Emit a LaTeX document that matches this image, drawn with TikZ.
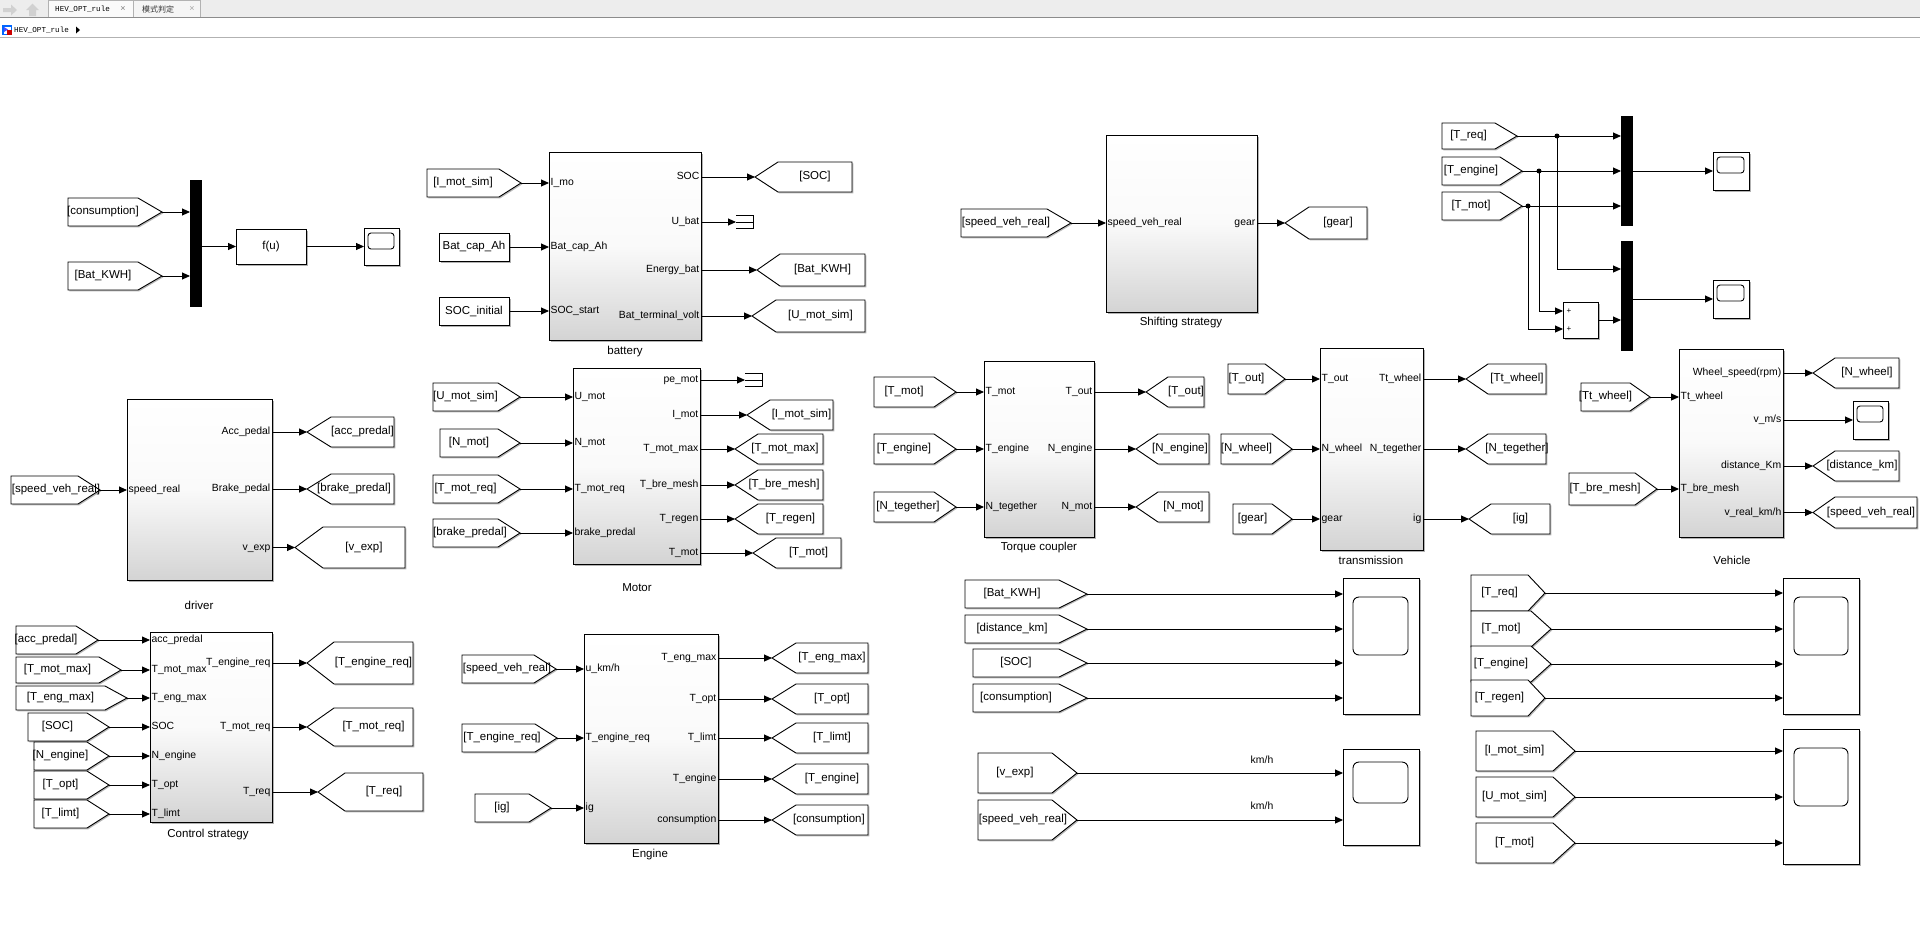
\documentclass[tikz,border=0pt]{standalone}
\usepackage{fontspec}
\setmainfont{Liberation Sans}
\newfontfamily\cjkf{Noto Sans CJK SC}
\newfontfamily\monof{Liberation Mono}
\usetikzlibrary{arrows.meta,shadows,calc}
\newcounter{nn}
\newcommand\tagfont{\fontsize{11.5}{13}\selectfont}
\def\scrad{3pt}
\tikzset{
  sig/.style={line width=0.9pt,-{Triangle[length=8pt,width=7pt]}},
  wire/.style={line width=0.9pt},
  blkst/.style={draw,line width=0.9pt,top color=white,bottom color=black!17,middle color=black!2,inner sep=0pt,outer sep=0pt,drop shadow={shadow xshift=1.5pt,shadow yshift=-1.5pt,fill=black!30,opacity=1}},
  plainst/.style={draw,line width=0.9pt,fill=white,inner sep=0pt,outer sep=0pt,drop shadow={shadow xshift=1.5pt,shadow yshift=-1.5pt,fill=black!30,opacity=1}},
  muxst/.style={fill=black,inner sep=0pt,outer sep=0pt},
  portl/.style={font=\fontsize{10.4}{12}\selectfont,inner sep=1.5pt,text height=7.6pt,text depth=2.2pt},
  tagtext/.style={font=\tagfont,inner sep=0pt,text height=8.3pt,text depth=2.4pt},
  bname/.style={font=\tagfont,inner sep=0pt},
  tagline/.style={draw,line width=0.9pt,fill=white},
  shd/.style={fill=black!28},
  dot/.style={circle,fill=black,inner sep=0pt,minimum size=5pt},
  hdr/.style={font=\monof\fontsize{7.6}{9}\selectfont,inner sep=0pt},
}
% right-pointing tag: [text x], name, xleft, xtip, depth, ytop, ybot, text
\newcommand\TagR[8][]{%
  \pgfmathsetmacro\tgym{(#6+#7)/2}%
  \pgfmathsetmacro\tgxd{#4-#5}%
  \if\relax\detokenize{#1}\relax\pgfmathsetmacro\tgcx{(#3+\tgxd)/2}\else\def\tgcx{#1}\fi
  \fill[shd,shift={(1.3,1.3)}] (#3,#6) -- (\tgxd,#6) -- (#4,\tgym) -- (\tgxd,#7) -- (#3,#7) -- cycle;
  \draw[tagline] (#3,#6) -- (\tgxd,#6) -- (#4,\tgym) -- (\tgxd,#7) -- (#3,#7) -- cycle;
  \node[tagtext] (#2) at (\tgcx,\tgym) {#8};
  \coordinate (#2p) at (#4,\tgym);
}
% left-pointing tag: [text x], name, xtip, xright, depth, ytop, ybot, text
\newcommand\TagL[8][]{%
  \pgfmathsetmacro\tgym{(#6+#7)/2}%
  \pgfmathsetmacro\tgxd{#3+#5}%
  \if\relax\detokenize{#1}\relax\pgfmathsetmacro\tgcx{(#4+\tgxd)/2}\else\def\tgcx{#1}\fi
  \fill[shd,shift={(1.3,1.3)}] (#3,\tgym) -- (\tgxd,#6) -- (#4,#6) -- (#4,#7) -- (\tgxd,#7) -- cycle;
  \draw[tagline] (#3,\tgym) -- (\tgxd,#6) -- (#4,#6) -- (#4,#7) -- (\tgxd,#7) -- cycle;
  \node[tagtext] (#2) at (\tgcx,\tgym) {#8};
  \coordinate (#2p) at (#3,\tgym);
}
% block: name, x1, y1, x2, y2, style, text
\newcommand\Blk[7]{%
  \pgfmathsetmacro\bkw{#4-#2}\pgfmathsetmacro\bkh{#5-#3}%
  \node[#6,minimum width=\bkw pt,minimum height=\bkh pt] (#1) at ({(#2+#4)/2},{(#3+#5)/2}) {#7};
}
% scope: name x1 y1 x2 y2 ix1 iy1 ix2 iy2
\newcommand\Scope[9]{%
  \Blk{#1}{#2}{#3}{#4}{#5}{plainst}{}
  \draw[line width=0.9pt,rounded corners=\scrad] (#6,#7) rectangle (#8,#9);
}
\newcommand\In[3]{%
  \draw[sig] (#1) -- (#1 -| #2.west);
  \stepcounter{nn}\node[portl,anchor=west] (pl\thenn) at (#1 -| #2.west) {#3};
}
\newcommand\Out[3]{%
  \draw[sig] (#2 -| #1.east) -- (#2);
  \stepcounter{nn}\node[portl,anchor=east] (pl\thenn) at (#2 -| #1.east) {#3};
}
\newcommand\Term[1]{%
  \draw[wire] ([shift={(0,-6.5)}]#1) -- ++(17,0) -- ++(0,13) -- ++(-17,0);
  \draw[wire] (#1) -- ++(17,0);
}
\begin{document}
\begin{tikzpicture}[x=1pt,y=-1pt]
\useasboundingbox (0,0) rectangle (1920,930);
\fill[white] (0,0) rectangle (1920,930);
% ---------- header ----------
\fill[black!7] (0,0) rectangle (1920,17);
\fill[black!2] (48,0) rectangle (133,17);
\fill[black!4] (133,0) rectangle (200,17);
\draw[black!30,line width=0.6pt] (48,17) -- (48,0.5) -- (200,0.5) -- (200,17) (133,0.5) -- (133,17);
\draw[black!45,line width=0.6pt] (0,17) -- (1920,17);
\draw[black!30,line width=0.6pt] (0,37) -- (1920,37);
\fill[black!18] (3,8) -- (11,8) -- (11,4.5) -- (17,10) -- (11,15.5) -- (11,12) -- (3,12) -- cycle;
\fill[black!18] (29,16) -- (29,10) -- (26,10) -- (32.5,3.5) -- (39,10) -- (36,10) -- (36,16) -- cycle;
\node[hdr,anchor=west] (tab1) at (55,9.5) {HEV\_OPT\_rule};
\node[font=\fontsize{9}{10}\selectfont,text=black!50,inner sep=0pt] (tabx1) at (123,9) {×};
\node[font=\cjkf\fontsize{8}{9}\selectfont,inner sep=0pt,anchor=west,text=black!80] (tab2) at (142,9.5) {模式判定};
\node[font=\fontsize{9}{10}\selectfont,text=black!35,inner sep=0pt] (tabx2) at (192,9) {×};
\fill[blue!60!cyan] (2,25) rectangle (12,35);
\fill[white] (3.5,26.5) rectangle (10.5,33.5);
\fill[blue!70] (4,27) -- (8,29.5) -- (4,32) -- cycle;
\fill[red!80!black] (7,30) rectangle (12,35);
\node[hdr,anchor=west] (addr) at (14,30) {HEV\_OPT\_rule};
\fill[black] (76,26.5) -- (80,30) -- (76,33.5) -- cycle;
% ---------- group A ----------
\TagR{tCons}{68}{162}{24}{198}{226}{[consumption]}
\TagR{tBatA}{68}{162}{24}{262}{290}{[Bat\_KWH]}
\Blk{muxA}{190}{180}{202}{307}{muxst}{}
\Blk{fu}{236}{229}{306}{264}{plainst}{\tagfont f(u)}
\Scope{scA}{364}{228}{399}{265}{368}{233}{394}{249}
\draw[sig] (tConsp) -- (tConsp -| muxA.west);
\draw[sig] (tBatAp) -- (tBatAp -| muxA.west);
\draw[sig] (muxA.east |- fu.west) -- (fu.west);
\draw[sig] (fu.east) -- (fu.east -| scA.west);
% ---------- battery ----------
\Blk{bat}{549}{152}{701}{340}{blkst}{}
\node[bname] (batn) at (625,352) {battery};
\TagR{tImA}{427}{521}{22}{169}{197}{[I\_mot\_sim]}
\Blk{cCap}{439}{233}{509}{261}{plainst}{\tagfont Bat\_cap\_Ah}
\Blk{cSoc}{439}{297}{509}{325}{plainst}{\tagfont SOC\_initial}
\In{tImAp}{bat}{I\_mo}
\In{cCap.east}{bat}{Bat\_cap\_Ah}
\In{cSoc.east}{bat}{SOC\_start}
\TagL{tSOCA}{755}{852}{23}{162}{192}{[SOC]}
\Out{bat}{tSOCAp}{SOC}
\coordinate (termA) at (736,222);
\Out{bat}{termA}{U\_bat}
\Term{termA}
\TagL{tBKA}{757}{865}{23}{254}{286}{[Bat\_KWH]}
\Out{bat}{tBKAp}{Energy\_bat}
\TagL{tUmA}{752}{865}{24}{300}{332}{[U\_mot\_sim]}
\Out{bat}{tUmAp}{Bat\_terminal\_volt}
% ---------- shifting strategy ----------
\Blk{shf}{1106}{135}{1257}{312}{blkst}{}
\node[bname] (shfn) at (1181,323) {Shifting strategy};
\TagR[1006]{tSpdA}{961}{1071}{24}{209}{237}{[speed\_veh\_real]}
\In{tSpdAp}{shf}{speed\_veh\_real}
\TagL{tGearA}{1285}{1367}{24}{207}{239}{[gear]}
\Out{shf}{tGearAp}{gear}
% ---------- torque mux group ----------
\TagR{tTrB}{1442}{1517}{22}{123}{149}{[T\_req]}
\TagR{tTeB}{1442}{1522}{22}{157}{185}{[T\_engine]}
\TagR{tTmB}{1442}{1522}{22}{192}{220}{[T\_mot]}
\Blk{muxB}{1621}{116}{1633}{226}{muxst}{}
\Blk{muxC}{1621}{241}{1633}{351}{muxst}{}
\Scope{scB}{1713}{152}{1749}{190}{1717}{157}{1744}{173}
\Scope{scC}{1713}{280}{1749}{318}{1717}{285}{1744}{301}
\Blk{sumB}{1563}{302}{1598}{338}{plainst}{}
\node[font=\fontsize{8}{9}\selectfont,inner sep=0pt] (sp1) at (1569,311) {+};
\node[font=\fontsize{8}{9}\selectfont,inner sep=0pt] (sp2) at (1569,329) {+};
\draw[sig] (tTrBp) -- (tTrBp -| muxB.west);
\draw[sig] (tTeBp) -- (tTeBp -| muxB.west);
\draw[sig] (tTmBp) -- (tTmBp -| muxB.west);
\path (tTrBp) ++(40,0) coordinate (brR);
\path (tTeBp) ++(17,0) coordinate (brE);
\path (tTmBp) ++(6,0) coordinate (brM);
\coordinate (mC1) at (1621,269);
\coordinate (sI1) at (1563,311);
\coordinate (sI2) at (1563,329);
\draw[sig] (brR) |- (mC1);
\draw[sig] (brE) |- (sI1);
\draw[sig] (brM) |- (sI2);
\draw[sig] (sumB.east) -- (sumB.east -| muxC.west);
\draw[sig] (muxB.east |- scB.west) -- (scB.west);
\draw[sig] (muxC.east |- scC.west) -- (scC.west);
\node[dot] (d1) at (brR) {};
\node[dot] (d2) at (brE) {};
\node[dot] (d3) at (brM) {};
% ---------- driver ----------
\Blk{drv}{127}{399}{272}{580}{blkst}{}
\node[bname] (drvn) at (199,605) {driver};
\TagR[56]{tSpdB}{11}{100}{22}{476}{504}{[speed\_veh\_real]}
\In{tSpdBp}{drv}{speed\_real}
\TagL{tAccA}{307}{394}{24}{417}{447}{[acc\_predal]}
\Out{drv}{tAccAp}{Acc\_pedal}
\TagL[354]{tBrkA}{307}{394}{24}{474}{504}{[brake\_predal]}
\Out{drv}{tBrkAp}{Brake\_pedal}
\TagL{tVexA}{295}{405}{28}{527}{568}{[v\_exp]}
\Out{drv}{tVexAp}{v\_exp}
% ---------- motor ----------
\Blk{mot}{573}{368}{700}{564}{blkst}{}
\node[bname] (motn) at (637,588) {Motor};
\TagR{tUmB}{433}{520}{22}{383}{411}{[U\_mot\_sim]}
\TagR{tNmB}{440}{520}{22}{429}{457}{[N\_mot]}
\TagR{tTmrB}{433}{520}{22}{475}{503}{[T\_mot\_req]}
\TagR[470]{tBrkB}{433}{520}{22}{519}{547}{[brake\_predal]}
\In{tUmBp}{mot}{U\_mot}
\In{tNmBp}{mot}{N\_mot}
\In{tTmrBp}{mot}{T\_mot\_req}
\In{tBrkBp}{mot}{brake\_predal}
\coordinate (termB) at (745,380);
\Out{mot}{termB}{pe\_mot}
\Term{termB}
\TagL{tImB}{747}{833}{23}{400}{430}{[I\_mot\_sim]}
\Out{mot}{tImBp}{I\_mot}
\TagL[785]{tTmxB}{735}{823}{23}{434}{464}{[T\_mot\_max]}
\Out{mot}{tTmxBp}{T\_mot\_max}
\TagL[784]{tTbmB}{735}{823}{23}{470}{500}{[T\_bre\_mesh]}
\Out{mot}{tTbmBp}{T\_bre\_mesh}
\TagL{tTrgB}{735}{823}{23}{504}{534}{[T\_regen]}
\Out{mot}{tTrgBp}{T\_regen}
\TagL{tTmC}{753}{841}{23}{538}{568}{[T\_mot]}
\Out{mot}{tTmCp}{T\_mot}
% ---------- torque coupler ----------
\Blk{tc}{984}{361}{1094}{537}{blkst}{}
\node[bname] (tcn) at (1039,548) {Torque coupler};
\TagR{tTmD}{874}{956}{22}{377}{407}{[T\_mot]}
\TagR{tTeD}{874}{956}{22}{434}{464}{[T\_engine]}
\TagR[908]{tNtD}{874}{956}{22}{492}{522}{[N\_tegether]}
\In{tTmDp}{tc}{T\_mot}
\In{tTeDp}{tc}{T\_engine}
\In{tNtDp}{tc}{N\_tegether}
\TagL{tToD}{1146}{1204}{22}{377}{407}{[T\_out]}
\Out{tc}{tToDp}{T\_out}
\TagL[1180]{tNeD}{1136}{1209}{22}{434}{464}{[N\_engine]}
\Out{tc}{tNeDp}{N\_engine}
\TagL{tNmD}{1136}{1209}{22}{492}{522}{[N\_mot]}
\Out{tc}{tNmDp}{N\_mot}
% ---------- transmission ----------
\Blk{trn}{1320}{348}{1423}{550}{blkst}{}
\node[bname] (trnn) at (1371,560) {transmission};
\TagR{tToE}{1228}{1285}{20}{364}{394}{[T\_out]}
\TagR{tNwE}{1221}{1292}{20}{434}{464}{[N\_wheel]}
\TagR{tGrE}{1233}{1292}{20}{504}{534}{[gear]}
\In{tToEp}{trn}{T\_out}
\In{tNwEp}{trn}{N\_wheel}
\In{tGrEp}{trn}{gear}
\TagL{tTtE}{1466}{1546}{22}{364}{394}{[Tt\_wheel]}
\Out{trn}{tTtEp}{Tt\_wheel}
\TagL{tNtE}{1466}{1546}{22}{434}{464}{[N\_tegether]}
\Out{trn}{tNtEp}{N\_tegether}
\TagL{tIgE}{1469}{1550}{22}{504}{534}{[ig]}
\Out{trn}{tIgEp}{ig}
% ---------- vehicle ----------
\Blk{veh}{1679}{349}{1783}{537}{blkst}{}
\node[bname] (vehn) at (1732,560) {Vehicle};
\TagR{tTtF}{1581}{1650}{20}{383}{411}{[Tt\_wheel]}
\TagR[1605]{tTbF}{1569}{1657}{22}{473}{505}{[T\_bre\_mesh]}
\In{tTtFp}{veh}{Tt\_wheel}
\In{tTbFp}{veh}{T\_bre\_mesh}
\TagL{tNwF}{1813}{1899}{22}{358}{388}{[N\_wheel]}
\Out{veh}{tNwFp}{Wheel\_speed(rpm)}
\Scope{scF}{1853}{401}{1888}{439}{1857}{406}{1883}{422}
\Out{veh}{scF.west}{v\_m/s}
\TagL[1862]{tDsF}{1813}{1899}{22}{451}{481}{[distance\_km]}
\Out{veh}{tDsFp}{distance\_Km}
\TagL[1871]{tSpF}{1813}{1917}{22}{497}{528}{[speed\_veh\_real]}
\Out{veh}{tSpFp}{v\_real\_km/h}
% ---------- control strategy ----------
\Blk{cst}{150}{632}{272}{822}{blkst}{}
\node[bname] (cstn) at (208,835) {Control strategy};
\TagR{tAcG}{16}{98}{22}{626}{654}{[acc\_predal]}
\TagR{tTmxG}{16}{121}{22}{657}{683}{[T\_mot\_max]}
\TagR{tTexG}{16}{127}{22}{686}{710}{[T\_eng\_max]}
\TagR{tSoG}{28}{109}{22}{713}{741}{[SOC]}
\TagR{tNeG}{34}{109}{22}{742}{770}{[N\_engine]}
\TagR{tToG}{34}{109}{22}{771}{799}{[T\_opt]}
\TagR{tTlG}{34}{109}{22}{800}{828}{[T\_limt]}
\In{tAcGp}{cst}{acc\_predal}
\In{tTmxGp}{cst}{T\_mot\_max}
\In{tTexGp}{cst}{T\_eng\_max}
\In{tSoGp}{cst}{SOC}
\In{tNeGp}{cst}{N\_engine}
\In{tToGp}{cst}{T\_opt}
\In{tTlGp}{cst}{T\_limt}
\TagL{tTerG}{307}{413}{27}{642}{684}{[T\_engine\_req]}
\Out{cst}{tTerGp}{T\_engine\_req}
\TagL{tTmrG}{307}{413}{27}{708}{746}{[T\_mot\_req]}
\Out{cst}{tTmrGp}{T\_mot\_req}
\TagL{tTrG}{318}{423}{27}{773}{811}{[T\_req]}
\Out{cst}{tTrGp}{T\_req}
% ---------- engine ----------
\Blk{eng}{584}{634}{718}{843}{blkst}{}
\node[bname] (engn) at (650,855) {Engine};
\TagR[507]{tSpH}{462}{556}{22}{655}{683}{[speed\_veh\_real]}
\TagR[502]{tTerH}{462}{557}{22}{724}{752}{[T\_engine\_req]}
\TagR{tIgH}{475}{551}{22}{794}{822}{[ig]}
\In{tSpHp}{eng}{u\_km/h}
\In{tTerHp}{eng}{T\_engine\_req}
\In{tIgHp}{eng}{ig}
\TagL{tTexH}{772}{868}{24}{643}{673}{[T\_eng\_max]}
\Out{eng}{tTexHp}{T\_eng\_max}
\TagL{tToH}{772}{868}{24}{684}{714}{[T\_opt]}
\Out{eng}{tToHp}{T\_opt}
\TagL{tTlH}{772}{868}{24}{723}{753}{[T\_limt]}
\Out{eng}{tTlHp}{T\_limt}
\TagL{tTeH}{772}{868}{24}{764}{794}{[T\_engine]}
\Out{eng}{tTeHp}{T\_engine}
\TagL[829]{tCoH}{772}{868}{24}{805}{835}{[consumption]}
\Out{eng}{tCoHp}{consumption}
% ---------- bottom scopes ----------
\def\scrad{6pt}
\Scope{scL1}{1343}{578}{1419}{714}{1353}{597}{1408}{655}
\TagR{tBkJ}{965}{1087}{28}{580}{608}{[Bat\_KWH]}
\TagR{tDsJ}{965}{1087}{28}{615}{643}{[distance\_km]}
\TagR{tSoJ}{973}{1087}{28}{649}{677}{[SOC]}
\TagR{tCoJ}{973}{1087}{28}{684}{712}{[consumption]}
\draw[sig] (tBkJp) -- (tBkJp -| scL1.west);
\draw[sig] (tDsJp) -- (tDsJp -| scL1.west);
\draw[sig] (tSoJp) -- (tSoJp -| scL1.west);
\draw[sig] (tCoJp) -- (tCoJp -| scL1.west);
\Scope{scL2}{1343}{749}{1419}{845}{1353}{762}{1408}{803}
\TagR{tVeK}{978}{1077}{25}{753}{793}{[v\_exp]}
\TagR[1023]{tSpK}{978}{1077}{25}{800}{840}{[speed\_veh\_real]}
\draw[sig] (tVeKp) -- (tVeKp -| scL2.west);
\draw[sig] (tSpKp) -- (tSpKp -| scL2.west);
\node[portl] (kmh1) at (1262,761) {km/h};
\node[portl] (kmh2) at (1262,807) {km/h};
\Scope{scR1}{1783}{578}{1859}{714}{1794}{597}{1848}{655}
\TagR{tTrM}{1471}{1545}{17}{575}{611}{[T\_req]}
\TagR{tTmM}{1471}{1551}{20}{611}{647}{[T\_mot]}
\TagR{tTeM}{1471}{1551}{20}{646}{682}{[T\_engine]}
\TagR{tTgM}{1471}{1545}{17}{680}{716}{[T\_regen]}
\draw[sig] (tTrMp) -- (tTrMp -| scR1.west);
\draw[sig] (tTmMp) -- (tTmMp -| scR1.west);
\draw[sig] (tTeMp) -- (tTeMp -| scR1.west);
\draw[sig] (tTgMp) -- (tTgMp -| scR1.west);
\Scope{scR2}{1783}{729}{1859}{864}{1794}{748}{1848}{806}
\TagR{tImN}{1476}{1575}{22}{731}{771}{[I\_mot\_sim]}
\TagR{tUmN}{1476}{1575}{22}{777}{817}{[U\_mot\_sim]}
\TagR{tTmN}{1476}{1575}{22}{823}{863}{[T\_mot]}
\draw[sig] (tImNp) -- (tImNp -| scR2.west);
\draw[sig] (tUmNp) -- (tUmNp -| scR2.west);
\draw[sig] (tTmNp) -- (tTmNp -| scR2.west);
\end{tikzpicture}
\end{document}
